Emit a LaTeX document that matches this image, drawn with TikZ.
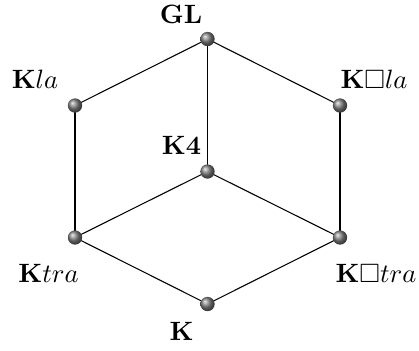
\documentclass[tikz,border=0pt]{standalone}
\usepackage{amssymb}
\usetikzlibrary{backgrounds}
\begin{document}
\begin{tikzpicture}[x=0.377pt,y=-0.377pt,
  ballnode/.style={circle,shading=ball,ball color=gray,minimum size=5.4pt,inner sep=0pt},
  lbl/.style={anchor=base,inner sep=0pt},
  edge/.style={line width=0.4pt}]
\useasboundingbox (0,0) rectangle (419,350);
\node[ballnode] (gl) at (207.5,39) {};
\node[ballnode] (kla) at (75,105.5) {};
\node[ballnode] (kbla) at (340,105.5) {};
\node[ballnode] (kf) at (207.5,171.5) {};
\node[ballnode] (ktra) at (75,237.5) {};
\node[ballnode] (kbtra) at (340,237.5) {};
\node[ballnode] (k) at (207.5,304) {};
\node[lbl] (lgl) at (181,23) {$\mathbf{GL}$};
\node[lbl] (lkla) at (35,88) {$\mathbf{K}la$};
\node[lbl] (lkbla) at (374,88) {$\mathbf{K}\Box la$};
\node[lbl] (lkf) at (181.5,154) {$\mathbf{K4}$};
\node[lbl] (lktra) at (48.5,282) {$\mathbf{K}tra$};
\node[lbl] (lkbtra) at (376,282) {$\mathbf{K}\Box tra$};
\node[lbl] (lk) at (181.5,340) {$\mathbf{K}$};
\begin{scope}[on background layer]
\draw[edge] (gl.center) -- (kla.center);
\draw[edge] (gl.center) -- (kbla.center);
\draw[edge] (gl.center) -- (kf.center);
\draw[edge] (kla.center) -- (ktra.center);
\draw[edge] (kbla.center) -- (kbtra.center);
\draw[edge] (kf.center) -- (ktra.center);
\draw[edge] (kf.center) -- (kbtra.center);
\draw[edge] (ktra.center) -- (k.center);
\draw[edge] (kbtra.center) -- (k.center);
\end{scope}
\end{tikzpicture}
\end{document}
